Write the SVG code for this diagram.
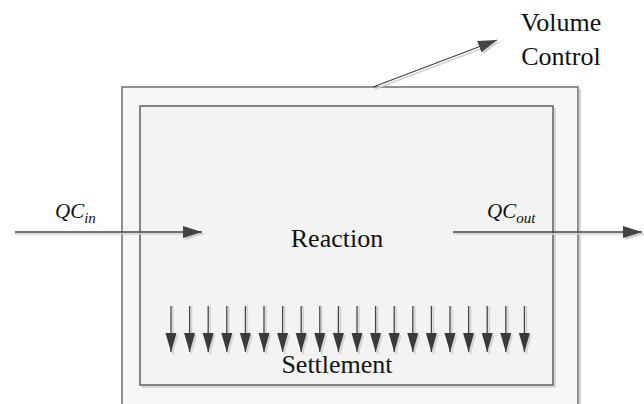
<svg xmlns="http://www.w3.org/2000/svg" width="644" height="404" viewBox="0 0 644 404">
<style>
.box{fill:#f6f6f6;stroke:#777;stroke-width:1.6}
.inner{fill:#f3f3f3;stroke:#666;stroke-width:1.6}
.shadow{fill:none;stroke:#d6d6d6;stroke-width:2}
.ln{stroke:#444;stroke-width:1.3;fill:none}
.lnS{stroke:#d0d0d0;stroke-width:1.5;fill:none}
</style>
<defs>
<marker id="ah" markerUnits="userSpaceOnUse" markerWidth="20" markerHeight="14" refX="19" refY="7" orient="auto">
<path d="M0,1 L19,7 L0,13 Z" fill="#444"/>
</marker>
<marker id="ahS" markerUnits="userSpaceOnUse" markerWidth="20" markerHeight="14" refX="19" refY="7" orient="auto">
<path d="M0,1 L19,7 L0,13 Z" fill="#d0d0d0"/>
</marker>
<marker id="dh" markerUnits="userSpaceOnUse" markerWidth="20" markerHeight="12" refX="19" refY="6" orient="auto">
<path d="M0,0.5 L19,6 L0,11.5 Z" fill="#3a3a3a"/>
</marker>
<marker id="dhS" markerUnits="userSpaceOnUse" markerWidth="20" markerHeight="12" refX="19" refY="6" orient="auto">
<path d="M0,0.5 L19,6 L0,11.5 Z" fill="#d4d4d4"/>
</marker>
</defs>
<rect width="644" height="404" fill="#fff"/>
<g id="tank">
<path class="shadow" d="M580,89 L580,404"/>
<rect class="box" x="122" y="87" width="456" height="330"/>
</g>
<g id="reaction">
<path class="shadow" d="M555,108 L555,387 L142,387"/>
<rect class="inner" x="140" y="106" width="413" height="279"/>
<text x="337" y="247" text-anchor="middle" style="font-family:'Liberation Serif',serif;font-size:26px;fill:#111">Reaction</text>
</g>
<g id="settlement">
<text x="337" y="373" text-anchor="middle" style="font-family:'Liberation Serif',serif;font-size:26px;fill:#111">Settlement</text>
</g>
<g id="volume-control">
<text x="561" y="31" text-anchor="middle" style="font-family:'Liberation Serif',serif;font-size:26px;fill:#111">Volume</text>
<text x="561" y="65" text-anchor="middle" style="font-family:'Liberation Serif',serif;font-size:26px;fill:#111">Control</text>
</g>
<g id="qc-in">
<text x="55" y="218" style="font-family:'Liberation Serif',serif;font-style:italic;font-size:21px;fill:#111">QC<tspan style="font-size:15px" dy="5">in</tspan></text>
</g>
<g id="qc-out">
<text x="487" y="218" style="font-family:'Liberation Serif',serif;font-style:italic;font-size:21px;fill:#111">QC<tspan style="font-size:15px" dy="5">out</tspan></text>
</g>
<g id="connectors">
<line class="lnS" x1="15" y1="234" x2="204" y2="234" marker-end="url(#ahS)"/>
<line class="ln" x1="15" y1="232" x2="202" y2="232" marker-end="url(#ah)"/>
<line class="lnS" x1="453" y1="234" x2="644" y2="234" marker-end="url(#ahS)"/>
<line class="ln" x1="453" y1="232" x2="642" y2="232" marker-end="url(#ah)"/>
<line class="lnS" x1="375" y1="89" x2="499" y2="42" marker-end="url(#ahS)"/>
<line class="ln" x1="373" y1="87" x2="497" y2="40" marker-end="url(#ah)"/>
<g id="settling-arrows">
<line class="lnS" x1="173" y1="306" x2="173" y2="354" marker-end="url(#dhS)"/>
<line class="ln" x1="171" y1="306" x2="171" y2="352" marker-end="url(#dh)"/>
<line class="lnS" x1="191.6" y1="306" x2="191.6" y2="354" marker-end="url(#dhS)"/>
<line class="ln" x1="189.6" y1="306" x2="189.6" y2="352" marker-end="url(#dh)"/>
<line class="lnS" x1="210.2" y1="306" x2="210.2" y2="354" marker-end="url(#dhS)"/>
<line class="ln" x1="208.2" y1="306" x2="208.2" y2="352" marker-end="url(#dh)"/>
<line class="lnS" x1="228.8" y1="306" x2="228.8" y2="354" marker-end="url(#dhS)"/>
<line class="ln" x1="226.8" y1="306" x2="226.8" y2="352" marker-end="url(#dh)"/>
<line class="lnS" x1="247.4" y1="306" x2="247.4" y2="354" marker-end="url(#dhS)"/>
<line class="ln" x1="245.4" y1="306" x2="245.4" y2="352" marker-end="url(#dh)"/>
<line class="lnS" x1="266" y1="306" x2="266" y2="354" marker-end="url(#dhS)"/>
<line class="ln" x1="264" y1="306" x2="264" y2="352" marker-end="url(#dh)"/>
<line class="lnS" x1="284.6" y1="306" x2="284.6" y2="354" marker-end="url(#dhS)"/>
<line class="ln" x1="282.6" y1="306" x2="282.6" y2="352" marker-end="url(#dh)"/>
<line class="lnS" x1="303.2" y1="306" x2="303.2" y2="354" marker-end="url(#dhS)"/>
<line class="ln" x1="301.2" y1="306" x2="301.2" y2="352" marker-end="url(#dh)"/>
<line class="lnS" x1="321.8" y1="306" x2="321.8" y2="354" marker-end="url(#dhS)"/>
<line class="ln" x1="319.8" y1="306" x2="319.8" y2="352" marker-end="url(#dh)"/>
<line class="lnS" x1="340.4" y1="306" x2="340.4" y2="354" marker-end="url(#dhS)"/>
<line class="ln" x1="338.4" y1="306" x2="338.4" y2="352" marker-end="url(#dh)"/>
<line class="lnS" x1="359" y1="306" x2="359" y2="354" marker-end="url(#dhS)"/>
<line class="ln" x1="357" y1="306" x2="357" y2="352" marker-end="url(#dh)"/>
<line class="lnS" x1="377.6" y1="306" x2="377.6" y2="354" marker-end="url(#dhS)"/>
<line class="ln" x1="375.6" y1="306" x2="375.6" y2="352" marker-end="url(#dh)"/>
<line class="lnS" x1="396.2" y1="306" x2="396.2" y2="354" marker-end="url(#dhS)"/>
<line class="ln" x1="394.2" y1="306" x2="394.2" y2="352" marker-end="url(#dh)"/>
<line class="lnS" x1="414.8" y1="306" x2="414.8" y2="354" marker-end="url(#dhS)"/>
<line class="ln" x1="412.8" y1="306" x2="412.8" y2="352" marker-end="url(#dh)"/>
<line class="lnS" x1="433.4" y1="306" x2="433.4" y2="354" marker-end="url(#dhS)"/>
<line class="ln" x1="431.4" y1="306" x2="431.4" y2="352" marker-end="url(#dh)"/>
<line class="lnS" x1="452" y1="306" x2="452" y2="354" marker-end="url(#dhS)"/>
<line class="ln" x1="450" y1="306" x2="450" y2="352" marker-end="url(#dh)"/>
<line class="lnS" x1="470.6" y1="306" x2="470.6" y2="354" marker-end="url(#dhS)"/>
<line class="ln" x1="468.6" y1="306" x2="468.6" y2="352" marker-end="url(#dh)"/>
<line class="lnS" x1="489.2" y1="306" x2="489.2" y2="354" marker-end="url(#dhS)"/>
<line class="ln" x1="487.2" y1="306" x2="487.2" y2="352" marker-end="url(#dh)"/>
<line class="lnS" x1="507.8" y1="306" x2="507.8" y2="354" marker-end="url(#dhS)"/>
<line class="ln" x1="505.8" y1="306" x2="505.8" y2="352" marker-end="url(#dh)"/>
<line class="lnS" x1="526.4" y1="306" x2="526.4" y2="354" marker-end="url(#dhS)"/>
<line class="ln" x1="524.4" y1="306" x2="524.4" y2="352" marker-end="url(#dh)"/>
</g>
</g>
</svg>
